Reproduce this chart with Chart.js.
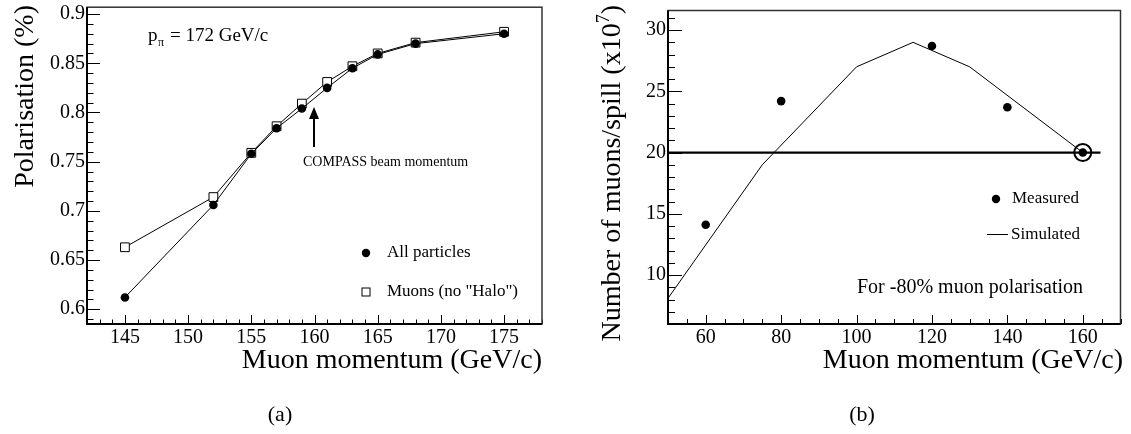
<!DOCTYPE html>
<html>
<head>
<meta charset="utf-8">
<script src="https://cdn.jsdelivr.net/npm/chart.js@4.4.1/dist/chart.umd.min.js"></script>
<style>
  html, body { margin: 0; padding: 0; background: #fff; }
  #hoja { position: relative; width: 1131px; height: 434px; }
  .panel { position: absolute; top: 0; height: 434px; }
</style>
</head>
<body>
<div id="hoja">
  <div class="panel" style="left:0;width:560px"><canvas id="graficoPol"></canvas></div>
  <div class="panel" style="left:565px;width:566px"><canvas id="graficoMuones"></canvas></div>
</div>
<script>
    /* ------------------ DATOS (a) ------------------ */
    const momentoPol = [145, 152, 155, 157, 159, 161, 163, 165, 168, 175];
    const polTodas   = [0.612, 0.706, 0.758, 0.784, 0.804, 0.825, 0.845, 0.859, 0.870, 0.880];
    const polMuones  = [0.663, 0.714, 0.759, 0.786, 0.809, 0.831, 0.847, 0.860, 0.871, 0.882];

    /* ------------------ DATOS (b) ------------------ */
    const momentoMedido   = [60, 80, 120, 140, 160];
    const muonesMedido    = [14.1, 24.2, 28.7, 23.7, 20.0];
    const momentoSimulado = [50, 75, 100, 115, 130, 160];
    const muonesSimulado  = [8.1, 19.0, 27.0, 29.0, 27.0, 20.0];
    const momentoObjetivo = [50, 164.7];
    const muonesObjetivo  = [20, 20];

    const fuente = "'Liberation Serif', 'Times New Roman', serif";

    function puntos(xs, ys) {
      return xs.map((x, i) => ({ x: x, y: ys[i] }));
    }

    // marcas solo en multiplos del paso (sin los bordes)
    function marcasMayores(paso) {
      return function (s) {
        const k0 = Math.ceil(s.min / paso - 1e-6), k1 = Math.floor(s.max / paso + 1e-6);
        const lista = [];
        for (let k = k0; k <= k1; k++) lista.push({ value: +(k * paso).toFixed(6) });
        s.ticks = lista;
      };
    }

    /* ------------------ GENERAL ------------------ */
    // marcas menores/mayores hacia adentro, estilo ROOT, y el marco
    const marcas = {
      id: 'marcas',
      afterDatasetsDraw(chart, args, op) {
        const { ctx, chartArea: a, scales: { x, y } } = chart;
        ctx.save();
        ctx.strokeStyle = '#000';
        ctx.lineWidth = 1;
        ctx.beginPath();
        let k0 = Math.ceil(x.min / op.menorX - 1e-6), k1 = Math.floor(x.max / op.menorX + 1e-6);
        const relX = Math.round(op.mayorX / op.menorX);
        for (let k = k0; k <= k1; k++) {
          const px = Math.round(x.getPixelForValue(k * op.menorX)) + 0.5;
          const largo = (k % relX === 0) ? op.largoX[0] : op.largoX[1];
          ctx.moveTo(px, a.bottom);
          ctx.lineTo(px, a.bottom - largo);
        }
        k0 = Math.ceil(y.min / op.menorY - 1e-6); k1 = Math.floor(y.max / op.menorY + 1e-6);
        const relY = Math.round(op.mayorY / op.menorY);
        for (let k = k0; k <= k1; k++) {
          const py = Math.round(y.getPixelForValue(k * op.menorY)) + 0.5;
          const largo = (k % relY === 0) ? op.largoY[0] : op.largoY[1];
          ctx.moveTo(a.left, py);
          ctx.lineTo(a.left + largo, py);
        }
        ctx.stroke();
        // marco
        ctx.strokeStyle = '#333';
        ctx.lineWidth = 1.5;
        ctx.strokeRect(a.left, a.top, a.right - a.left, a.bottom - a.top);
        ctx.strokeStyle = '#000';
        ctx.lineWidth = 2;
        ctx.beginPath();
        ctx.moveTo(a.left, a.top);
        ctx.lineTo(a.left, a.bottom);
        ctx.lineTo(a.right, a.bottom);
        ctx.stroke();
        ctx.restore();
      }
    };

    function escalaX(min, max, paso) {
      return {
        type: 'linear', min: min, max: max,
        grid: { display: false, drawTicks: false }, border: { display: false },
        ticks: { stepSize: paso, includeBounds: false, padding: 2, color: '#000', maxRotation: 0, autoSkip: false,
                 font: { family: fuente, size: 20 } },
        afterBuildTicks: marcasMayores(paso),
        afterFit(s) { s.height = 110; s.paddingLeft = 0; s.paddingRight = 0; }
      };
    }

    function escalaY(min, max, paso, ancho, fmt) {
      return {
        type: 'linear', min: min, max: max,
        grid: { display: false, drawTicks: false }, border: { display: false },
        ticks: { stepSize: paso, includeBounds: false, padding: 2, color: '#000', autoSkip: false,
                 font: { family: fuente, size: 20 }, callback: fmt },
        afterBuildTicks: marcasMayores(paso),
        afterFit(s) { s.width = ancho; s.paddingTop = 0; s.paddingBottom = 0; }
      };
    }

    function tituloY(ctx, x, y, partes) {
      // partes: [texto, sup] ; alineado al final en (x, y), girado 90 grados
      ctx.save();
      ctx.translate(x, y);
      ctx.rotate(-Math.PI / 2);
      ctx.fillStyle = '#000';
      ctx.textBaseline = 'alphabetic';
      const fN = '28px ' + fuente, fS = '18px ' + fuente;
      let total = 0;
      partes.forEach(p => { ctx.font = p[1] ? fS : fN; total += ctx.measureText(p[0]).width; });
      let cx = -total;
      ctx.textAlign = 'left';
      partes.forEach(p => {
        ctx.font = p[1] ? fS : fN;
        ctx.fillText(p[0], cx, p[1] ? -11 : 0);
        cx += ctx.measureText(p[0]).width;
      });
      ctx.restore();
    }

    /* ------------------ GRAFICO (a) ------------------ */
    const textosA = {
      id: 'textosA',
      afterDraw(chart) {
        const ctx = chart.ctx;
        ctx.save();
        ctx.fillStyle = '#000';
        tituloY(ctx, 33, 5, [['Polarisation (%)', false]]);
        ctx.font = '28px ' + fuente;
        ctx.textAlign = 'right';
        ctx.textBaseline = 'alphabetic';
        ctx.fillText('Muon momentum (GeV/c)', 542, 368);
        ctx.font = '22px ' + fuente;
        ctx.textAlign = 'center';
        ctx.textBaseline = 'middle';
        ctx.fillText('(a)', 280, 415);
        // p_pi
        ctx.textAlign = 'left';
        ctx.textBaseline = 'alphabetic';
        ctx.font = '19px ' + fuente;
        ctx.fillText('p', 148, 41);
        ctx.font = '12px ' + fuente;
        ctx.fillText('\u03c0', 158, 46);
        ctx.font = '19px ' + fuente;
        ctx.fillText('= 172 GeV/c', 170, 41);
        // flecha
        ctx.strokeStyle = '#000';
        ctx.lineWidth = 2;
        ctx.beginPath();
        ctx.moveTo(314, 147);
        ctx.lineTo(314, 117);
        ctx.stroke();
        ctx.beginPath();
        ctx.moveTo(314, 107);
        ctx.lineTo(319, 119);
        ctx.lineTo(309, 119);
        ctx.closePath();
        ctx.fill();
        ctx.font = '14px ' + fuente;
        ctx.fillText('COMPASS beam momentum', 303, 166);
        // leyenda
        ctx.beginPath();
        ctx.arc(366, 253, 4.2, 0, Math.PI * 2);
        ctx.fill();
        ctx.lineWidth = 1;
        ctx.strokeRect(362, 288, 8, 8);
        ctx.font = '17px ' + fuente;
        ctx.textBaseline = 'middle';
        ctx.fillText('All particles', 387, 253);
        ctx.fillText('Muons (no "Halo")', 387, 292);
        ctx.restore();
      }
    };

    const graficoPol = new Chart(document.getElementById('graficoPol'), {
      type: 'scatter',
      data: {
        datasets: [
          { label: 'All particles', data: puntos(momentoPol, polTodas), showLine: true,
            borderColor: '#000', borderWidth: 1, backgroundColor: '#000',
            pointStyle: 'circle', pointRadius: 4.3, pointBorderWidth: 0 },
          { label: 'Muons (no "Halo")', data: puntos(momentoPol, polMuones), showLine: true,
            borderColor: '#000', borderWidth: 1, backgroundColor: '#fff',
            pointStyle: 'rect', pointRadius: 6.2, pointBorderWidth: 1 }
        ]
      },
      options: {
        responsive: true, maintainAspectRatio: false, animation: false, events: [],
        layout: { padding: { top: 4, right: 18, left: 0, bottom: 0 } },
        scales: {
          x: escalaX(142, 178, 5),
          y: escalaY(0.585, 0.907, 0.05, 87, v => +v.toFixed(2))
        },
        plugins: {
          legend: { display: false }, tooltip: { enabled: false },
          marcas: { menorX: 1, mayorX: 5, largoX: [9, 4.5], menorY: 0.01, mayorY: 0.05, largoY: [13, 6.5] }
        }
      },
      plugins: [marcas, textosA]
    });

    /* ------------------ GRAFICO (b) ------------------ */
    const textosB = {
      id: 'textosB',
      afterDraw(chart) {
        const ctx = chart.ctx;
        ctx.save();
        ctx.fillStyle = '#000';
        tituloY(ctx, 55, 5, [['Number of muons/spill (x10', false], ['7', true], [')', false]]);
        ctx.font = '28px ' + fuente;
        ctx.textAlign = 'right';
        ctx.textBaseline = 'alphabetic';
        ctx.fillText('Muon momentum (GeV/c)', 558, 368);
        ctx.font = '22px ' + fuente;
        ctx.textAlign = 'center';
        ctx.textBaseline = 'middle';
        ctx.fillText('(b)', 297, 415);
        // leyenda
        ctx.textAlign = 'left';
        ctx.beginPath();
        ctx.arc(431, 199, 4.2, 0, Math.PI * 2);
        ctx.fill();
        ctx.strokeStyle = '#000';
        ctx.lineWidth = 1;
        ctx.beginPath();
        ctx.moveTo(422, 234.5);
        ctx.lineTo(443, 234.5);
        ctx.stroke();
        ctx.font = '17px ' + fuente;
        ctx.fillText('Measured', 447, 199);
        ctx.fillText('Simulated', 446, 235);
        ctx.font = '20px ' + fuente;
        ctx.fillText('For -80% muon polarisation', 292, 288);
        ctx.restore();
      }
    };

    const graficoMuones = new Chart(document.getElementById('graficoMuones'), {
      type: 'scatter',
      data: {
        datasets: [
          { label: 'Measured', data: puntos(momentoMedido, muonesMedido), showLine: false,
            backgroundColor: '#000', pointStyle: 'circle', pointRadius: 4.3, pointBorderWidth: 0 },
          { label: 'Selected', data: puntos(momentoMedido.slice(-1), muonesMedido.slice(-1)), showLine: false,
            backgroundColor: 'rgba(0,0,0,0)', borderColor: '#000', pointStyle: 'circle', pointRadius: 8.5, pointBorderWidth: 2 },
          { label: 'Simulated', data: puntos(momentoSimulado, muonesSimulado), showLine: true,
            borderColor: '#000', borderWidth: 1, pointRadius: 0 },
          { label: 'Objetivo', data: puntos(momentoObjetivo, muonesObjetivo), showLine: true,
            borderColor: '#000', borderWidth: 2.2, pointRadius: 0 }
        ]
      },
      options: {
        responsive: true, maintainAspectRatio: false, animation: false, events: [],
        layout: { padding: { top: 4, right: 8, left: 0, bottom: 0 } },
        scales: {
          x: escalaX(50, 170, 20),
          y: escalaY(6, 31.6, 5, 103)
        },
        plugins: {
          legend: { display: false }, tooltip: { enabled: false },
          marcas: { menorX: 5, mayorX: 20, largoX: [9, 5], menorY: 1, mayorY: 5, largoY: [14, 7] }
        }
      },
      plugins: [marcas, textosB]
    });
</script>
</body>
</html>
